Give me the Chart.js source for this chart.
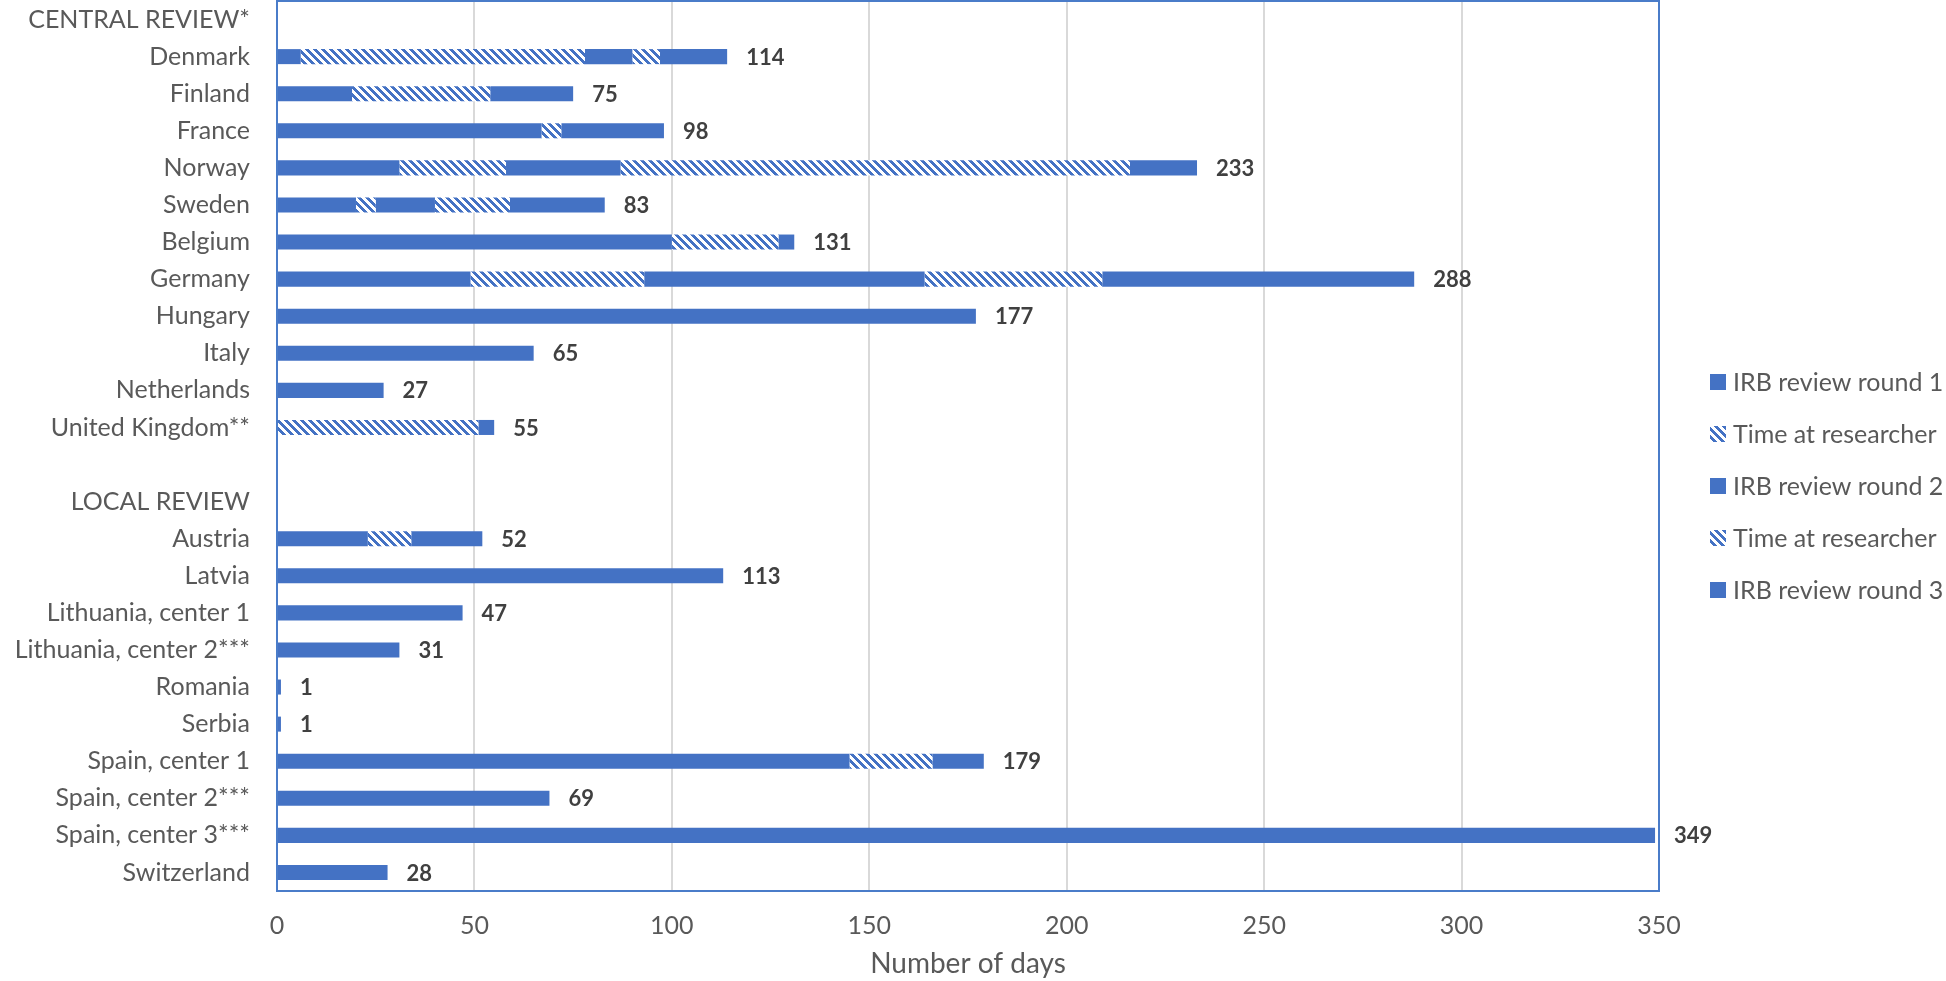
<!DOCTYPE html>
<html>
<head>
<meta charset="utf-8">
<script src="https://cdn.jsdelivr.net/npm/chart.js@4.4.1/dist/chart.umd.min.js"></script>
<style>
    html, body { margin: 0; padding: 0; background: #ffffff; }
    canvas { display: block; }
</style>
</head>
<body>
<canvas id="canvas-id-1" width="1946" height="981"></canvas>
<script>

const categories = [
    'CENTRAL REVIEW*', 'Denmark', 'Finland', 'France', 'Norway', 'Sweden', 'Belgium',
    'Germany', 'Hungary', 'Italy', 'Netherlands', 'United Kingdom**', '',
    'LOCAL REVIEW', 'Austria', 'Latvia', 'Lithuania, center 1', 'Lithuania, center 2***',
    'Romania', 'Serbia', 'Spain, center 1', 'Spain, center 2***', 'Spain, center 3***', 'Switzerland'
]

const irbRound1       = [null, 6, 19, 67, 31, 20, 100, 49, 177, 65, 27, 0, null, null, 23, 113, 47, 31, 1, 1, 145, 69, 349, 28]
const researcherTime1 = [null, 72, 35, 5, 27, 5, 27, 44, 0, 0, 0, 51, null, null, 11, 0, 0, 0, 0, 0, 21, 0, 0, 0]
const irbRound2       = [null, 12, 21, 26, 29, 15, 4, 71, 0, 0, 0, 4, null, null, 18, 0, 0, 0, 0, 0, 13, 0, 0, 0]
const researcherTime2 = [null, 7, 0, 0, 129, 19, 0, 45, 0, 0, 0, 0, null, null, 0, 0, 0, 0, 0, 0, 0, 0, 0, 0]
const irbRound3       = [null, 17, 0, 0, 17, 24, 0, 79, 0, 0, 0, 0, null, null, 0, 0, 0, 0, 0, 0, 0, 0, 0, 0]

const xTicks = [0, 50, 100, 150, 200, 250, 300, 350]

const BLUE = '#4472c4'
const FRAME_BLUE = '#4a7cc9'
const TEXT_GREY = '#595959'
const FONT = 'Lato'


function hatchPattern(color) {
    const tile = document.createElement('canvas')
    tile.width = 8
    tile.height = 8
    const c = tile.getContext('2d')
    c.fillStyle = '#ffffff'
    c.fillRect(0, 0, 8, 8)
    c.fillStyle = color
    for (let y = 0; y < 8; y++) {
        for (let x = 0; x < 8; x++) {
            if (((x - y) % 8 + 8) % 8 < 4) { c.fillRect(x, y, 1, 1) }
        }
    }
    return document.getElementById('canvas-id-1').getContext('2d').createPattern(tile, 'repeat')
}

function totalFor(index) {
    return [irbRound1, researcherTime1, irbRound2, researcherTime2, irbRound3]
        .reduce((sum, arr) => sum + (arr[index] || 0), 0)
}


// blue frame round the plot area
const frameBox = {
    id: 'frameBox',
    beforeDatasetsDraw(chart) {
        const { ctx, chartArea: a } = chart
        ctx.save()
        ctx.strokeStyle = FRAME_BLUE
        ctx.lineWidth = 2
        ctx.strokeRect(a.left, a.top, a.right - a.left, a.bottom - a.top)
        ctx.restore()
    }
}

// bold totals at the end of every bar
const totalLabels = {
    id: 'totalLabels',
    afterDatasetsDraw(chart) {
        const { ctx } = chart
        const xs = chart.scales.x
        const ys = chart.scales.y
        ctx.save()
        ctx.font = `bold 22px ${FONT}`
        ctx.fillStyle = '#404040'
        ctx.textAlign = 'left'
        ctx.textBaseline = 'middle'
        categories.forEach((cat, i) => {
            const total = totalFor(i)
            if (total > 0) {
                ctx.fillText(String(total), xs.getPixelForValue(total) + 19, ys.getPixelForValue(i) + 1)
            }
        })
        ctx.restore()
    }
}

// legend on the right, drawn by hand so the gaps match
const sideLegend = {
    id: 'sideLegend',
    afterDraw(chart) {
        const { ctx, chartArea: a } = chart
        const left = a.right + 51
        const firstY = 382
        const step = 52
        ctx.save()
        ctx.font = `25px ${FONT}`
        ctx.textBaseline = 'middle'
        ctx.textAlign = 'left'
        chart.data.datasets.forEach((ds, i) => {
            const y = firstY + i * step
            ctx.fillStyle = ds.backgroundColor
            ctx.fillRect(left, y - 8, 16, 16)
            ctx.fillStyle = TEXT_GREY
            ctx.fillText(ds.label, left + 23, y + 1)
        })
        ctx.restore()
    }
}


function draw() {
    const hatch = hatchPattern(BLUE)

    const makeSet = (label, data, fill) => ({
        label: label,
        data: data,
        backgroundColor: fill,
        borderWidth: 0,
        categoryPercentage: 1.0,
        barPercentage: 0.405
    })

    new Chart(
        document.getElementById('canvas-id-1'),
        {
            type: 'bar',
            data: {
                labels: categories,
                datasets: [
                    makeSet('IRB review round 1', irbRound1, BLUE),
                    makeSet('Time at researcher', researcherTime1, hatch),
                    makeSet('IRB review round 2', irbRound2, BLUE),
                    makeSet('Time at researcher', researcherTime2, hatch),
                    makeSet('IRB review round 3', irbRound3, BLUE)
                ]
            },
            options: {
                indexAxis: 'y',
                responsive: false,
                animation: false,
                devicePixelRatio: 1,
                layout: { padding: { top: 1, right: 287, bottom: 0, left: 0 } },
                plugins: {
                    legend: { display: false },
                    tooltip: { enabled: false }
                },
                scales: {
                    x: {
                        stacked: true,
                        min: 0,
                        max: 350,
                        afterBuildTicks: (scale) => { scale.ticks = xTicks.map(v => ({ value: v })) },
                        afterFit: (scale) => { scale.height = 90 },
                        grid: {
                            color: (c) => c.tick && c.tick.value === 0 ? 'rgba(0,0,0,0)' : '#d9d9d9',
                            lineWidth: 2,
                            drawTicks: false
                        },
                        border: { display: false },
                        ticks: {
                            color: TEXT_GREY,
                            font: { family: FONT, size: 25 },
                            padding: 20
                        },
                        title: {
                            display: true,
                            text: 'Number of days',
                            color: TEXT_GREY,
                            font: { family: FONT, size: 28 },
                            padding: { top: 0, bottom: 0 }
                        }
                    },
                    y: {
                        stacked: true,
                        afterFit: (scale) => {
                            scale.width = 277
                            scale.paddingTop = 0
                            scale.paddingBottom = 0
                        },
                        grid: { display: false, drawTicks: false },
                        border: { display: false },
                        ticks: {
                            color: TEXT_GREY,
                            font: { family: FONT, size: 25 },
                            padding: 27,
                            autoSkip: false
                        }
                    }
                }
            },
            plugins: [frameBox, totalLabels, sideLegend]
        }
    )
}

window.onload = (event) => {
    draw()
}

</script>
</body>
</html>
